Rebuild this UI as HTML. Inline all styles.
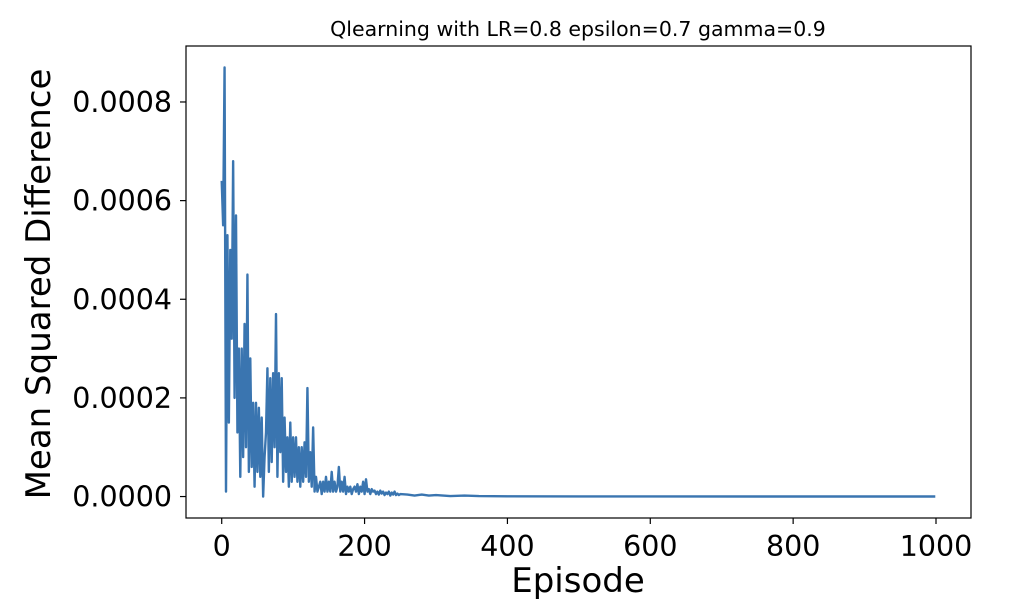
<!DOCTYPE html>
<html><head><meta charset="utf-8"><style>
body{margin:0;background:#fff;}
svg{display:block;font-family:"DejaVu Sans","Liberation Sans",sans-serif;}
</style></head><body>
<svg id="chart" width="1014" height="614">
<text x="578" y="36" font-size="20.5" text-anchor="middle" fill="#000">Qlearning with LR=0.8 epsilon=0.7 gamma=0.9</text>
<g id="plot"></g>
<rect x="186" y="46" width="785" height="472" fill="none" stroke="#000" stroke-width="1.2"/>
<text x="578" y="592" font-size="34" text-anchor="middle">Episode</text>
<text transform="translate(50,284) rotate(-90)" font-size="34" text-anchor="middle">Mean Squared Difference</text>
</svg>
<script>
const episodes=[0,2,4,6,8,10,12,14,16,18,20,22,24,26,28,30,32,34,36,38,40,42,44,46,48,50,52,54,56,58,60,62,64,66,68,70,72,74,76,78,80,82,84,86,88,90,92,94,96,98,100,102,104,106,108,110,112,114,116,118,120,122,124,126,128,130,132,134,136,138,140,142,144,146,148,150,152,154,156,158,160,162,164,166,168,170,172,174,176,178,180,182,184,186,188,190,192,194,196,198,200,202,204,206,208,210,212,214,216,218,220,222,224,226,228,230,232,234,236,238,240,242,244,246,248,250,260,270,280,290,300,320,340,360,400,500,600,800,999];
const values=[6.4,5.5,8.7,0.1,5.3,1.5,5.0,3.2,6.8,2.0,5.7,1.3,3.0,0.4,3.0,0.8,3.5,1.0,4.5,0.5,2.8,0.6,1.9,0.2,1.9,0.5,1.8,0.4,1.6,0.0,0.8,1.3,2.6,0.5,2.4,0.7,2.5,1.0,3.7,0.4,2.5,0.9,2.4,0.3,1.6,0.5,1.2,0.2,1.5,0.3,1.2,0.4,1.2,0.3,1.0,0.2,1.0,0.3,1.1,0.4,2.2,0.3,0.9,0.2,1.4,0.1,0.4,0.1,0.2,0.3,0.05,0.3,0.1,0.4,0.1,0.3,0.1,0.5,0.1,0.3,0.1,0.2,0.6,0.1,0.3,0.1,0.4,0.05,0.2,0.1,0.2,0.05,0.15,0.2,0.1,0.25,0.05,0.2,0.1,0.3,0.05,0.35,0.1,0.15,0.05,0.15,0.1,0.12,0.05,0.1,0.04,0.12,0.06,0.1,0.03,0.08,0.05,0.1,0.02,0.08,0.04,0.1,0.03,0.06,0.03,0.05,0.04,0.02,0.04,0.02,0.03,0.01,0.02,0.01,0.005,0.003,0.002,0.001,0.001];
const xTicks=[0,200,400,600,800,1000];
const yTicks=[0,2,4,6,8];
const yTickLabels=["0.0000","0.0002","0.0004","0.0006","0.0008"];
const L=186,R=971,T=46,B=518;
const xmin=-50,xmax=1049,ymax=Math.max(...values),ymin=-0.05*ymax,ytop=ymax*1.05;
const X=e=>L+(e-xmin)/(xmax-xmin)*(R-L);
const Y=v=>B-(v-ymin)/(ytop-ymin)*(B-T);
const ns="http://www.w3.org/2000/svg";
const svg=document.getElementById('chart');
function mk(tag,attrs,parent){const el=document.createElementNS(ns,tag);for(const k in attrs)el.setAttribute(k,attrs[k]);(parent||svg).appendChild(el);return el;}
const plot=document.getElementById('plot');
const line=mk('polyline',{points:episodes.map((e,i)=>X(e).toFixed(2)+','+Y(values[i]).toFixed(2)).join(' '),fill:'none',stroke:'#3a75b0','stroke-width':2.4,'stroke-linejoin':'round'},plot);


xTicks.forEach(t=>{
  const tk=mk('line',{x1:X(t),x2:X(t),y1:B,y2:B+6,stroke:'#000','stroke-width':1.2});
  
  
  const lb=mk('text',{x:X(t),y:B+38,'font-size':28.5,'text-anchor':'middle'});
  lb.textContent=t;
  
  
});
yTicks.forEach((t,i)=>{
  const tk=mk('line',{x1:L-6,x2:L,y1:Y(t),y2:Y(t),stroke:'#000','stroke-width':1.2});
  
  
  const lb=mk('text',{x:L-14,y:Y(t)+10,'font-size':28.5,'text-anchor':'end'});
  lb.textContent=yTickLabels[i];
  
  
});
</script>
</body></html>
